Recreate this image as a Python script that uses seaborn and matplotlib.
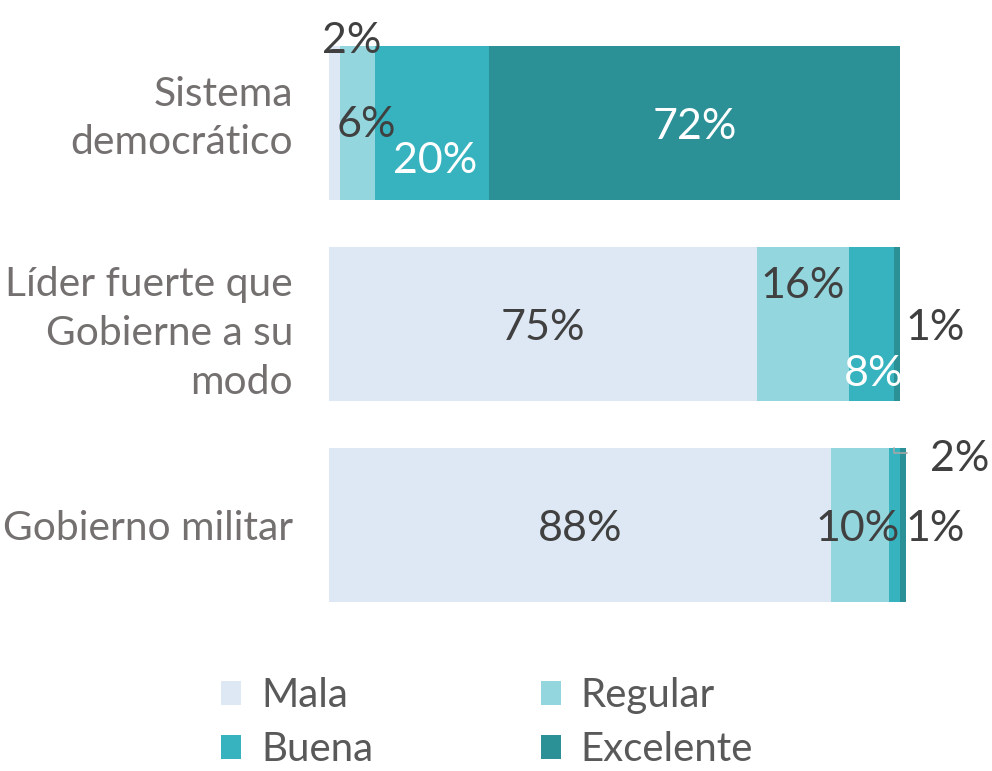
import matplotlib
matplotlib.use("Agg")
import matplotlib.pyplot as plt
import matplotlib.transforms as mtransforms
from matplotlib.patches import Patch
import numpy as np
import pandas as pd
import seaborn as sns

# Survey results: how each form of government is rated (percent)
categories = ["Sistema\ndemocrático", "Líder fuerte que\nGobierne a su\nmodo", "Gobierno militar"]
ratings = ["Mala", "Regular", "Buena", "Excelente"]
mala = [2, 75, 88]
regular = [6, 16, 10]
buena = [20, 8, 2]
excelente = [72, 1, 1]

colors = {"Mala": "#dde8f4", "Regular": "#93d6de", "Buena": "#36b3be", "Excelente": "#2b9197"}

sns.set_theme(style="white")
plt.rcParams["font.family"] = ["Lato", "DejaVu Sans"]

df = pd.DataFrame({"categoria": categories, "Mala": mala, "Regular": regular,
                   "Buena": buena, "Excelente": excelente})
cum = df[ratings].cumsum(axis=1)

fig = plt.figure(figsize=(9.92, 7.71), dpi=100)
ax = fig.add_axes([329 / 992, 1 - 625.5 / 771, 571 / 992, 603 / 771])

# stacked bars: draw cumulative totals from the outermost segment inward
for r in reversed(ratings):
    sns.barplot(data=cum.assign(categoria=categories), x=r, y="categoria", orient="h",
                color=colors[r], saturation=1, width=0.766, ax=ax, edgecolor="none")
for p in ax.patches:
    p.set_clip_on(False)

ax.set_xlim(0, 100)
ax.set_ylim(2.5, -0.5)
ax.set_xlabel("")
ax.set_ylabel("")
ax.set_xticks([])
for s in ax.spines.values():
    s.set_visible(False)
ax.tick_params(axis="y", length=0, pad=26, labelsize=29.3, labelcolor="#747070")
ylabels = ax.get_yticklabels()
for t in ylabels:
    t.set_linespacing(1.4)
# lift the first category label a little
ylabels[0].set_transform(ylabels[0].get_transform()
                         + mtransforms.ScaledTranslation(0, 14 / 100, fig.dpi_scale_trans))

# segment value labels; (dx, dy) nudges away from the segment centre
offsets = {
    (0, "Mala"): (3.0, -0.41), (0, "Regular"): (1.5, 0.01), (0, "Buena"): (0.5, 0.19), (0, "Excelente"): (0, 0.02),
    (1, "Mala"): (0, 0.02), (1, "Regular"): (0, -0.19), (1, "Buena"): (0.3, 0.25), (1, "Excelente"): (6.6, 0.02),
    (2, "Mala"): (0, 0.02), (2, "Regular"): (-0.5, 0.02), (2, "Buena"): (11.5, -0.33), (2, "Excelente"): (5.6, 0.02),
}
white = {(0, "Buena"), (0, "Excelente"), (1, "Buena")}
for i in range(len(categories)):
    for r in ratings:
        v = df.loc[i, r]
        start = cum.loc[i, r] - v
        dx, dy = offsets[(i, r)]
        ax.text(start + v / 2 + dx, i + dy, f"{v}%", ha="center", va="center",
                fontsize=31, color="white" if (i, r) in white else "#404040", clip_on=False)

# leader line for the small "Buena" segment of the last bar
xb = cum.loc[2, "Buena"] - buena[2] / 2
ax.plot([xb, xb, xb + 2.2], [2 - 0.383, 2 - 0.36, 2 - 0.36], color="#a6a6a6", lw=1.2, clip_on=False)

handles = [Patch(facecolor=colors[r], edgecolor="none") for r in ["Mala", "Buena", "Regular", "Excelente"]]
labels = ["Mala", "Buena", "Regular", "Excelente"]
fig.legend(handles, labels, ncol=2, loc="center", bbox_to_anchor=(0.491, 0.063), frameon=False,
           fontsize=29, labelcolor="#595959", handlelength=0.5, handleheight=0.55,
           handletextpad=0.5, columnspacing=4.15, labelspacing=0.42)

fig.savefig("out.png", dpi=100)
